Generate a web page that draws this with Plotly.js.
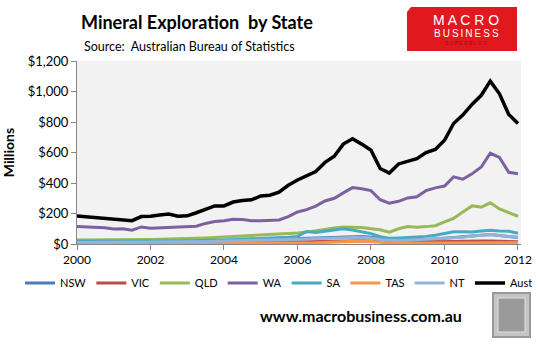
<!DOCTYPE html>
<html>
<head>
<meta charset="utf-8">
<script src="https://cdn.plot.ly/plotly-3.0.1.min.js"></script>
<style>
html,body{margin:0;padding:0;background:#fff;}
#chart{width:540px;height:344px;}
</style>
</head>
<body>
<div id="chart"></div>
<script>
// Quarterly dates
const dates = [
"2000-01-01","2000-04-01","2000-07-01","2000-10-01",
"2001-01-01","2001-04-01","2001-07-01","2001-10-01",
"2002-01-01","2002-04-01","2002-07-01","2002-10-01",
"2003-01-01","2003-04-01","2003-07-01","2003-10-01",
"2004-01-01","2004-04-01","2004-07-01","2004-10-01",
"2005-01-01","2005-04-01","2005-07-01","2005-10-01",
"2006-01-01","2006-04-01","2006-07-01","2006-10-01",
"2007-01-01","2007-04-01","2007-07-01","2007-10-01",
"2008-01-01","2008-04-01","2008-07-01","2008-10-01",
"2009-01-01","2009-04-01","2009-07-01","2009-10-01",
"2010-01-01","2010-04-01","2010-07-01","2010-10-01",
"2011-01-01","2011-04-01","2011-07-01","2011-10-01",
"2012-01-01"];

const seriesNames = ["NSW","VIC","QLD","WA","SA","TAS","NT","Aust"];

const nsw = [12,12,11,11,10,10,10,11,12,12,13,13,14,15,16,18,
             20,22,24,26,28,30,32,35,38,40,42,45,48,50,52,50,
             45,38,30,28,27,28,30,33,38,42,48,55,60,62,55,50,42];
const vic = [5,5,5,5,5,5,5,5,6,6,6,6,7,7,7,8,
             8,9,9,10,10,11,12,13,14,15,16,18,20,22,24,22,
             20,16,14,13,13,13,14,15,16,17,18,20,20,19,18,16,15];
const qld = [26,26,27,27,28,28,29,28,30,31,32,33,35,37,40,43,
             46,49,53,57,61,65,68,70,72,78,88,95,105,112,112,108,
             100,93,77,100,115,110,114,120,145,168,210,250,242,270,230,205,182];
const wa  = [114,112,110,106,98,100,90,112,104,106,109,111,114,117,135,148,
             152,162,160,153,152,153,158,180,210,225,248,282,300,335,370,362,
             350,290,268,280,302,310,350,368,380,440,425,460,505,595,568,470,460];
const sa  = [18,18,17,17,16,16,15,17,18,18,19,20,20,21,22,24,
             26,28,30,33,36,38,42,45,50,82,76,85,95,100,92,82,
             68,48,38,40,42,46,50,58,68,80,80,78,86,90,86,84,70];
const tas = [3,3,3,3,3,3,3,3,3,3,3,3,3,4,4,4,
             4,4,5,5,5,5,6,6,6,7,8,10,12,15,18,20,
             16,10,7,6,5,5,6,6,7,7,8,9,10,10,10,9,8];
const nt  = [10,10,10,10,10,10,10,11,11,12,12,13,14,15,16,17,
             18,19,20,22,24,26,28,30,32,35,38,40,42,44,46,44,
             40,30,25,22,25,28,30,32,35,40,45,52,58,62,55,50,45];
const aust = [183,178,173,170,163,160,153,180,182,190,196,182,185,205,230,250,
              250,275,285,290,315,320,340,385,420,448,475,535,575,655,690,655,
              615,495,465,525,545,560,600,620,680,790,845,915,975,1068,985,850,790];

const yTickVals = [0,200,400,600,800,1000,1200];
const yTickText = ["$0","$200","$400","$600","$800","$1,000","$1,200"];
const xTickVals = ["2000-01-01","2002-01-01","2004-01-01","2006-01-01","2008-01-01","2010-01-01","2012-01-01"];
const xTickText = ["2000","2002","2004","2006","2008","2010","2012"];

const allValues = [nsw,vic,qld,wa,sa,tas,nt,aust];
const colors = ["#4A7EBB","#BE4B48","#98B954","#7D60A0","#46AAC5","#F79646","#95B3D7","#000000"];
const widths = [3,3,3,3,3,3,3,3.5];

const traces = seriesNames.map((n,i)=>({
  type:'scatter', mode:'lines', name:n, x:dates, y:allValues[i],
  line:{color:colors[i], width:widths[i]}
}));

// pixel helpers for decorations (plot area 77..521 x 61..244)
const L=77, R=521, T=61, B=244;
const px = v => (v-L)/(R-L);
const py = v => (B-v)/(B-T);

const FONT = "Lato, 'Liberation Sans', sans-serif";

const layout = {
  width:540, height:344,
  margin:{l:L, r:540-R, t:T, b:344-B, pad:0},
  paper_bgcolor:'#ffffff',
  plot_bgcolor:'#F2F2F2',
  font:{family:FONT, size:12, color:'#000'},
  showlegend:true,
  legend:{orientation:'h', x:px(20), xanchor:'left', y:py(283), yanchor:'middle',
          font:{family:FONT, size:11, color:'#000'}, itemwidth:30,
          tracegroupgap:0, bgcolor:'rgba(0,0,0,0)', traceorder:'normal'},
  xaxis:{type:'date', range:["2000-01-01","2012-01-31"], tickvals:xTickVals, ticktext:xTickText,
         showgrid:false, zeroline:false, showline:true, linecolor:'#868686', linewidth:1,
         ticks:'outside', ticklen:5, tickcolor:'#868686', tickfont:{family:FONT,size:12,color:'#000'}},
  yaxis:{range:[0,1200], tickvals:yTickVals, ticktext:yTickText,
         showgrid:false, zeroline:false, showline:true, linecolor:'#868686', linewidth:1,
         ticks:'outside', ticklen:5, tickcolor:'#868686', tickfont:{family:FONT,size:13,color:'#000'},
         title:{text:'<b>Millions</b>', font:{family:FONT,size:14,color:'#000'}, standoff:12}},
  annotations:[
    {text:'<b>Mineral Exploration  by State</b>', xref:'paper', yref:'paper', x:px(197), y:py(22),
     xanchor:'center', yanchor:'middle', showarrow:false, font:{family:FONT,size:18,color:'#000'}},
    {text:'Source:  Australian Bureau of Statistics', xref:'paper', yref:'paper', x:px(82), y:py(47),
     xanchor:'left', yanchor:'middle', showarrow:false, font:{family:FONT,size:12.5,color:'#000'}},
    {text:'M A C R O', xref:'paper', yref:'paper', x:px(466), y:py(20),
     xanchor:'center', yanchor:'middle', showarrow:false, font:{family:"'Liberation Sans', sans-serif",size:14,color:'#ffffff'}},
    {text:'B\u2009U\u2009S\u2009I\u2009N\u2009E\u2009S\u2009S', xref:'paper', yref:'paper', x:px(466), y:py(33),
     xanchor:'center', yanchor:'middle', showarrow:false, font:{family:"'Liberation Sans', sans-serif",size:10,color:'#ffffff'}},
    {text:'S U P E R B L O G', xref:'paper', yref:'paper', x:px(466), y:py(43),
     xanchor:'center', yanchor:'middle', showarrow:false, font:{family:"'Liberation Sans', sans-serif",size:5,color:'#9e0d12'}},
    {text:'<b>www.macrobusiness.com.au</b>', xref:'paper', yref:'paper', x:px(361), y:py(315),
     xanchor:'center', yanchor:'middle', showarrow:false, font:{family:FONT,size:16,color:'#000'}}
  ],
  shapes:[
    {type:'path', xref:'paper', yref:'paper', layer:'above',
     path:`M ${px(411)} ${py(7)} L ${px(517)} ${py(7)} L ${px(517)} ${py(51)} L ${px(407)} ${py(51)} L ${px(407)} ${py(12)} Z`,
     fillcolor:'#E2181F', line:{width:0}},
    {type:'rect', xref:'paper', yref:'paper', layer:'above',
     x0:px(493), x1:px(530), y0:py(293), y1:py(337),
     fillcolor:'#c4c4c4', line:{color:'#999999', width:2}},
    {type:'rect', xref:'paper', yref:'paper', layer:'above',
     x0:px(498), x1:px(525), y0:py(298), y1:py(332),
     fillcolor:'#9a9a9a', line:{color:'#e0e0e0', width:1}}
  ]
};

Plotly.newPlot('chart', traces, layout, {displayModeBar:false, staticPlot:true});
</script>
</body>
</html>
